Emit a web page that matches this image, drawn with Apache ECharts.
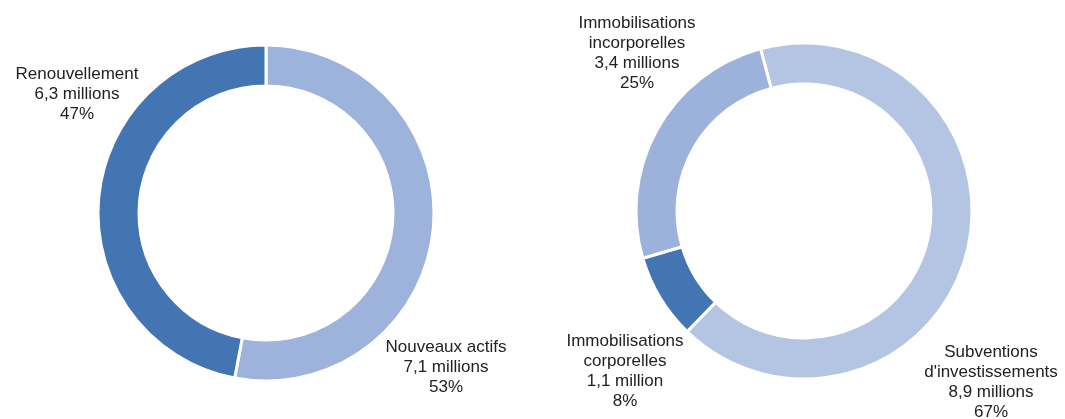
<!DOCTYPE html>
<html>
<head>
<meta charset="utf-8">
<script src="https://cdn.jsdelivr.net/npm/echarts@6/dist/echarts.min.js"></script>
<style>
  html, body { margin: 0; padding: 0; background: #fff; }
  #chart { width: 1065px; height: 419px; }
</style>
</head>
<body>
<div id="chart"></div>
<script>
// données gauche : nature des investissements
var leftNames = ['Nouveaux actifs', 'Renouvellement'];
var leftValues = [7.1, 6.3];
var leftPcts = ['53%', '47%'];

// données droite : financement
var rightNames = ['Subventions\nd\'investissements', 'Immobilisations\ncorporelles', 'Immobilisations\nincorporelles'];
var rightValues = [8.9, 1.1, 3.4];
var rightPcts = ['67%', '8%', '25%'];

function fmtMillions(v) {
    var s = String(v).replace('.', ',');
    return s + (v < 2 ? ' million' : ' millions');
}

function buildData(names, values, pcts, colors) {
    return names.map(function (n, i) {
        return {
            name: n,
            value: values[i],
            itemStyle: { color: colors[i] }
        };
    });
}

// positions des étiquettes (centre du bloc de texte)
var labelPos = [
    [[446, 367], [77, 94]],
    [[991, 382], [625, 371], [637, 53]]
];

var pctBySeries = [leftPcts, rightPcts];

var option = {
    animation: false,
    textStyle: { fontFamily: 'Liberation Sans, Arial, sans-serif' },
    series: [
        {
            type: 'pie',
            center: [266, 213],
            radius: [127, 168],
            startAngle: 90,
            clockwise: true,
            itemStyle: { borderColor: '#fff', borderWidth: 3 },
            data: buildData(leftNames, leftValues, leftPcts, ['#9db3db', '#4275b1'])
        },
        {
            type: 'pie',
            center: [804, 211],
            radius: [127, 168],
            startAngle: 105,
            clockwise: true,
            itemStyle: { borderColor: '#fff', borderWidth: 3 },
            data: buildData(rightNames, rightValues, rightPcts, ['#b4c5e4', '#4275b1', '#9db2da'])
        }
    ]
};

option.series.forEach(function (s, si) {
    s.silent = true;
    s.label = {
        show: true,
        position: 'outside',
        color: '#222',
        fontSize: 17,
        lineHeight: 20,
        align: 'center',
        overflow: 'none',
        formatter: function (p) {
            return p.name + '\n' + fmtMillions(p.value) + '\n' + pctBySeries[si][p.dataIndex];
        }
    };
    s.labelLine = { show: false };
    s.labelLayout = function (p) {
        var pos = labelPos[si][p.dataIndex];
        return { x: pos[0], y: pos[1], align: 'center', verticalAlign: 'middle' };
    };
});

var chart = echarts.init(document.getElementById('chart'));
chart.setOption(option);
window.addEventListener('resize', function () {
    chart.resize();
});
</script>
</body>
</html>
